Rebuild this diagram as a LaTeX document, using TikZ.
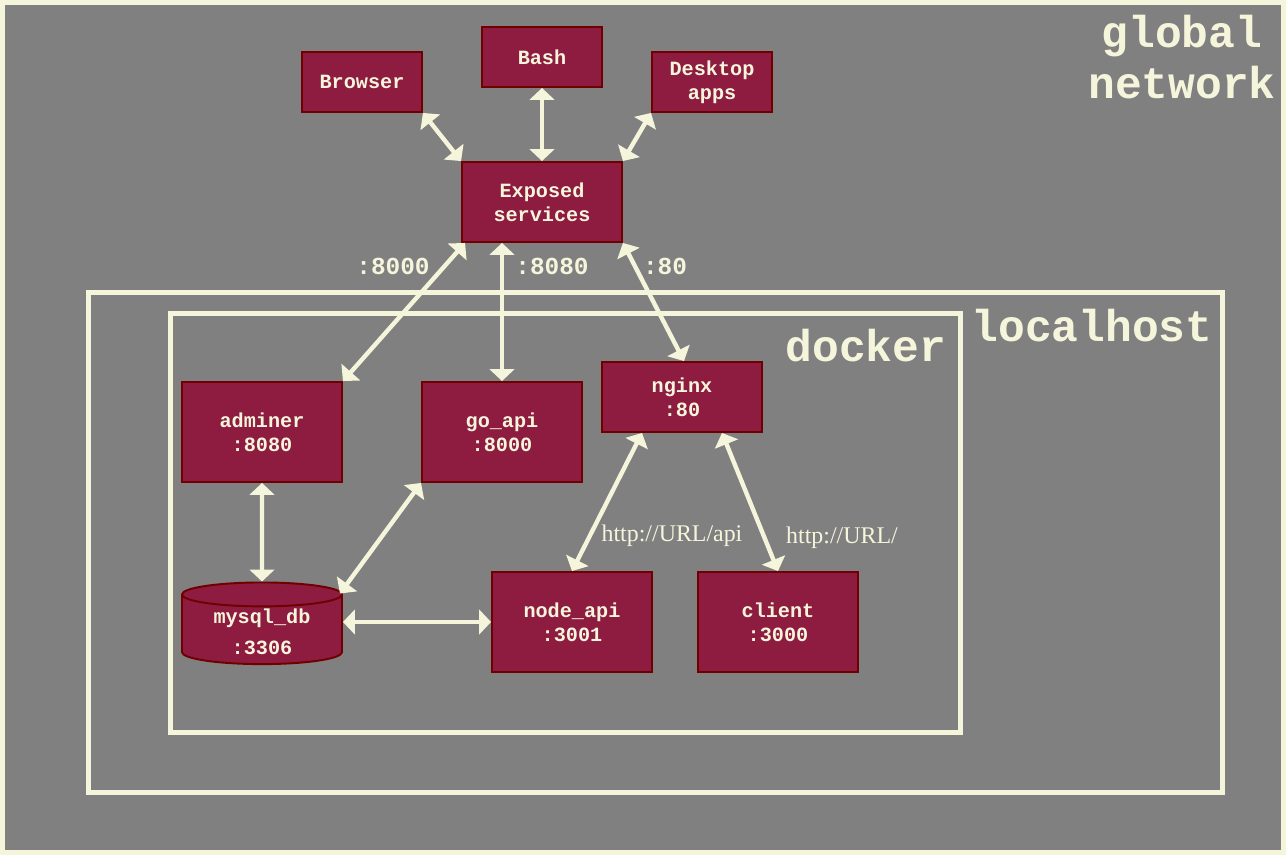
\documentclass[tikz,border=0pt]{standalone}
\usepackage{fontspec}
\setmainfont{Liberation Serif}
\setmonofont{Liberation Mono}
\usetikzlibrary{shapes.geometric,arrows.meta,calc}
\definecolor{netgray}{RGB}{128,128,128}
\definecolor{cream}{RGB}{245,245,220}
\definecolor{wine}{RGB}{142,27,64}
\definecolor{darkwine}{RGB}{112,0,0}
\tikzset
{
    svcnode/.style  = {rectangle, draw=darkwine, fill=wine, line width=1.1pt, text=cream, align=center, font=\ttfamily\bfseries\fontsize{11.5}{13.6}\selectfont, minimum width=3.2cm, minimum height=2cm},
    usernode/.style = {svcnode, minimum width=2.4cm, minimum height=1.2cm},
    dbnode/.style   = {svcnode, cylinder, shape border rotate=90, aspect=0.22, inner ysep=1pt, minimum width=3.2cm, minimum height=1.6cm},
    link/.style     = {<->, draw=cream, line width=2.5pt},
    zone/.style     = {draw=cream, line width=2.8pt},
    zonelabel/.style = {text=cream, align=center, font=\ttfamily\bfseries\fontsize{25.4}{28.9}\selectfont},
    portlabel/.style = {text=cream, font=\ttfamily\bfseries\fontsize{13.9}{16}\selectfont},
    urllabel/.style  = {text=cream, font=\fontsize{13.6}{16}\selectfont}
}
\begin{document}
\begin{tikzpicture}[x=0.02cm, y=-0.02cm, >={Triangle[length=6.8pt,width=14pt]}]
    \useasboundingbox (0,0) rectangle (1286,855);
    \fill[netgray] (0,0) rectangle (1286,855);
    \draw[zone] (2.5,2.5) rectangle (1283.5,852.5);
    \draw[zone] (88.5,292.5) rectangle (1222.5,792.5);
    \draw[zone] (170.5,313.5) rectangle (960.5,732.5);
    \node[zonelabel] (globallbl) at (1182,57) {global\\network};
    \node[zonelabel] (localhostlbl) at (1092,326) {localhost};
    \node[zonelabel] (dockerlbl) at (866,346) {docker};

    % clients
    \node[usernode] (browser) at (362,82) {Browser};
    \node[usernode] (bash) at (542,57) {Bash};
    \node[usernode] (desktop) at (712,82) {Desktop\\apps};
    \node[svcnode, minimum height=1.6cm] (exposed) at (542,202) {Exposed\\services};

    % containers
    \node[svcnode] (adminer) at (262,432) {adminer\\:8080};
    \node[svcnode] (goapi) at (502,432) {go\_api\\:8000};
    \node[svcnode, minimum height=1.4cm] (nginx) at (682,397) {nginx\\:80};
    \node[dbnode] (mysql) at (262,632) {mysql\_db\\[4pt]:3306};
    \node[svcnode] (nodeapi) at (572,622) {node\_api\\:3001};
    \node[svcnode] (client) at (778,622) {client\\:3000};

    \draw[link] (browser.south east) -- (exposed.north west);
    \draw[link] (bash.south) -- (exposed.north);
    \draw[link] (desktop.south west) -- (exposed.north east);
    \draw[link] ($(exposed.south west)+(4,0)$) -- (adminer.north east);
    \draw[link] (exposed.south -| goapi.north) -- (goapi.north);
    \draw[link] (exposed.south east) -- ($(nginx.north)+(2,0)$);
    \draw[link] (adminer.south) -- (mysql.north);
    \draw[link] (goapi.south west) -- ($(mysql.north)+(78,12)$);
    \draw[link] (mysql.east |- nodeapi.west) -- (nodeapi.west);
    \draw[link] ($(nginx.south)+(-40,0)$) -- (nodeapi.north);
    \draw[link] ($(nginx.south)+(40,0)$) -- (client.north);

    \node[portlabel] (p8000) at (393,266) {:8000};
    \node[portlabel] (p8080) at (552,266) {:8080};
    \node[portlabel] (p80) at (665,266) {:80};
    \node[urllabel] (urlapi) at (672,536) {http://URL/api};
    \node[urllabel] (urlroot) at (842,538) {http://URL/};
\end{tikzpicture}
\end{document}
